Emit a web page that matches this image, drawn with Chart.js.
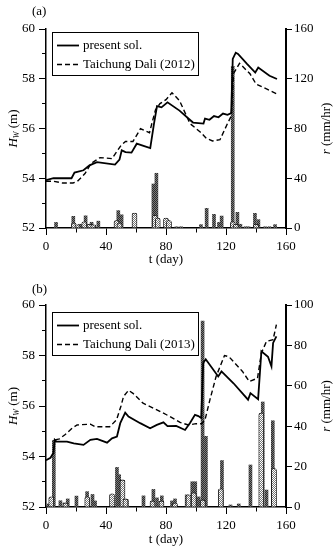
<!DOCTYPE html>
<html>
<head>
<meta charset="utf-8">
<script src="https://cdn.jsdelivr.net/npm/chart.js@4.4.1/dist/chart.umd.min.js"></script>
<style>
body { margin: 0; background: #fff; }
canvas { display: block; }
</style>
</head>
<body>
<canvas id="chartA" width="336" height="275"></canvas>
<canvas id="chartB" width="336" height="275"></canvas>
<script>
// ---- panel (a) ----
var solidDaysA = [0, 5, 17, 19, 25, 29, 34, 46, 49, 50.5, 53, 57, 60.5, 65, 69.5, 72, 74, 77, 81, 89, 98, 105, 106, 109, 112, 115, 118, 121, 123.5, 124.5, 126.5, 128, 134, 139.5, 141.5, 149, 154];
var solidHA = [53.92, 54.0, 54.0, 54.23, 54.32, 54.52, 54.65, 54.55, 54.75, 55.12, 55.05, 55.03, 55.39, 55.3, 55.21, 56.2, 56.9, 56.85, 57.05, 56.72, 56.24, 56.2, 56.4, 56.35, 56.5, 56.45, 56.6, 56.55, 56.62, 58.8, 59.05, 59.0, 58.6, 58.25, 58.45, 58.12, 57.99];
var dashDaysA = [0, 5, 11, 18, 21, 26, 30, 36, 44, 50, 53, 58, 63, 69, 71, 73, 76, 80, 84, 89, 96, 103, 107, 111, 116, 121, 123.5, 125, 129, 136, 140, 147, 154];
var dashHA = [53.88, 53.88, 53.81, 53.81, 53.88, 54.19, 54.59, 54.83, 54.79, 55.32, 55.48, 55.48, 55.99, 55.83, 56.3, 56.75, 57.0, 57.16, 57.44, 57.12, 56.2, 55.85, 55.6, 55.5, 55.55, 56.2, 56.5, 58.2, 58.62, 58.2, 57.79, 57.59, 57.39];
var darkDaysA = [6.7, 18.2, 22.7, 26.4, 30.4, 34.9, 48.2, 50.4, 71.6, 73.6, 87, 90, 103.3, 107.1, 112, 115.3, 117.1, 124.5, 127.6, 129.6, 133, 135, 139.3, 141.6, 146, 149, 152.7];
var darkRainA = [4.5, 9.4, 3, 9.8, 4.6, 5.5, 14, 10.6, 35.4, 44, 1, 1, 2.7, 15.8, 11, 4.5, 9.6, 130, 12.6, 3, 1, 1, 11.8, 6.7, 1, 1, 2.7];
var lightDaysA = [18.5, 21, 25.5, 29, 31.5, 47, 49, 59, 72.5, 74.5, 80, 82, 124.5, 126.5, 140];
var lightRainA = [4, 2.5, 5, 3, 2.5, 6, 4, 12, 10, 8, 8, 6, 5, 3, 3];

// ---- panel (b) ----
var solidDaysB = [0, 3, 5, 5.8, 7, 14, 18.5, 25, 29.6, 34, 40.7, 44, 47.3, 49.5, 52.8, 55, 62.8, 69.4, 73.9, 78.3, 81, 86.8, 92.7, 96, 99.3, 101.6, 103.5, 104.8, 106.5, 114.8, 117, 125, 134.7, 136.3, 141.4, 143.6, 148, 150.3, 151.4, 153.6];
var solidHB = [53.85, 53.95, 54.15, 54.66, 54.59, 54.59, 54.52, 54.46, 54.66, 54.7, 54.55, 54.72, 54.79, 55.32, 55.74, 55.58, 55.32, 55.12, 55.25, 55.35, 55.2, 55.21, 55.05, 55.33, 55.65, 55.6, 55.52, 57.7, 57.85, 57.17, 57.37, 56.9, 56.25, 56.51, 56.27, 58.17, 57.95, 57.57, 58.5, 58.76];
var dashDaysB = [6, 9, 12.6, 17.4, 20.7, 29.6, 32.9, 42.5, 47, 50, 51.7, 55, 58, 64.7, 73.9, 82.7, 89.4, 94.9, 100, 104, 106, 109.3, 113.4, 119, 122, 131, 135.5, 141, 143.6, 147, 151.4, 153.6];
var dashHB = [54.66, 54.7, 54.86, 55.12, 55.25, 55.28, 55.18, 55.18, 55.45, 56.0, 56.38, 56.62, 56.5, 56.11, 55.85, 55.58, 55.35, 55.25, 55.3, 55.3, 55.45, 56.25, 57.17, 58.0, 57.95, 57.37, 56.97, 57.1, 58.1, 58.56, 58.63, 59.22];
var darkDaysB = [1.5, 5.2, 9.6, 12.3, 14.5, 20.3, 27.4, 31, 32.7, 47.3, 48.8, 54, 65, 71.6, 74, 77.2, 84, 86, 93.8, 97.5, 99.5, 101.8, 104.4, 106.6, 117.3, 123, 128.5, 136.3, 144.5, 147, 151.2];
var darkRainB = [1.5, 33, 3.1, 2, 4, 5.4, 7.6, 6.2, 3, 19.6, 16, 3.5, 5.5, 8.7, 4.5, 5.5, 3, 4, 6, 12.5, 12.5, 5, 92, 35, 23, 1, 1.5, 20.8, 52, 8.4, 42.7];
var lightDaysB = [3.5, 13, 27.5, 44, 51, 53, 71, 77, 86, 95, 98.5, 104.5, 116.5, 143.5, 152];
var lightRainB = [5, 2, 5, 6.5, 13.4, 4, 3, 3, 2, 6, 7, 3.5, 9, 46.5, 19];

var FONT = "'Liberation Serif', 'Times New Roman', serif";

function toPoints(days, vals) {
    return days.map(function (d, i) { return { x: d, y: vals[i] }; });
}

function makePattern(bg, fg, cells, size) {
    var c = document.createElement('canvas');
    c.width = size; c.height = size;
    var g = c.getContext('2d');
    g.fillStyle = bg;
    g.fillRect(0, 0, size, size);
    g.fillStyle = fg;
    cells.forEach(function (p) { g.fillRect(p[0], p[1], 1, 1); });
    return g.createPattern(c, 'repeat');
}

var darkFill = makePattern('#7a7a7a', '#2a2a2a', [[0, 0], [1, 1]], 2);
var lightFill = makePattern('#fff', '#777', [[0, 0], [2, 0], [1, 1], [3, 1], [0, 2], [2, 2], [1, 3], [3, 3]], 4);

function drawParts(ctx, parts, cx, cy) {
    var total = 0;
    parts.forEach(function (p) { ctx.font = p.f; total += ctx.measureText(p.t).width; });
    var x = cx - total / 2;
    parts.forEach(function (p) {
        ctx.font = p.f;
        ctx.fillText(p.t, x, cy + (p.dy || 0));
        x += ctx.measureText(p.t).width;
    });
}

var decorPlugin = {
    id: 'decor',
    afterDraw: function (chart, args, o) {
        var ctx = chart.ctx, a = chart.chartArea;
        var mid = (a.top + a.bottom) / 2;
        ctx.save();
        ctx.fillStyle = '#000';
        ctx.textBaseline = 'middle';
        ctx.textAlign = 'left';
        ctx.font = '13px ' + FONT;
        ctx.fillText(o.tag, 32, o.tagY);

        // axis titles
        ctx.save();
        ctx.translate(14, mid);
        ctx.rotate(-Math.PI / 2);
        drawParts(ctx, [
            { t: 'H', f: 'italic 13px ' + FONT },
            { t: 'W', f: 'italic 8px ' + FONT, dy: 3 },
            { t: ' (m)', f: '13px ' + FONT }
        ], 0, 0);
        ctx.restore();
        ctx.save();
        ctx.translate(327, mid);
        ctx.rotate(-Math.PI / 2);
        drawParts(ctx, [
            { t: 'r', f: 'italic 13px ' + FONT },
            { t: ' (mm/hr)', f: '13px ' + FONT }
        ], 0, 0);
        ctx.restore();

        // legend box
        var bx = 52.5, by = o.boxTop + 0.5, bw = 146, bh = 43;
        ctx.lineWidth = 1;
        ctx.strokeStyle = '#000';
        ctx.strokeRect(bx, by, bw, bh);
        var lines = chart.data.datasets.filter(function (d) { return d.type === 'line'; });
        lines.forEach(function (d, i) {
            var y = by + 13 + i * 19;
            ctx.beginPath();
            ctx.setLineDash(d.borderDash || []);
            ctx.lineWidth = d.borderWidth;
            ctx.moveTo(57, y);
            ctx.lineTo(79, y);
            ctx.stroke();
            ctx.setLineDash([]);
            ctx.font = '13px ' + FONT;
            ctx.fillText(d.label, 83, y);
        });
        ctx.restore();
    }
};

function drawPanel(id, p) {
    var tickFont = { family: FONT, size: 13 };
    new Chart(document.getElementById(id), {
        type: 'line',
        data: {
            datasets: [{
                type: 'line',
                label: 'present sol.',
                data: toPoints(p.solidDays, p.solidH),
                borderColor: '#000',
                borderWidth: 1.8,
                pointRadius: 0,
                tension: 0,
                yAxisID: 'y',
                order: 0
            }, {
                type: 'line',
                label: p.obsLabel,
                data: toPoints(p.dashDays, p.dashH),
                borderColor: '#000',
                borderWidth: 1.4,
                borderDash: [5, 3],
                pointRadius: 0,
                tension: 0,
                yAxisID: 'y',
                order: 0
            }, {
                type: 'bar',
                label: 'rain (light)',
                data: toPoints(p.lightDays, p.lightRain),
                backgroundColor: lightFill,
                borderColor: '#000',
                borderWidth: 0.8,
                borderRadius: 2,
                barThickness: 5,
                grouped: false,
                yAxisID: 'r',
                order: 1
            }, {
                type: 'bar',
                label: 'rain (dark)',
                data: toPoints(p.darkDays, p.darkRain),
                backgroundColor: darkFill,
                borderWidth: 0,
                barThickness: 3,
                grouped: false,
                yAxisID: 'r',
                order: 2
            }]
        },
        options: {
            responsive: false,
            animation: false,
            devicePixelRatio: 1,
            layout: { padding: { top: p.top, left: 0, right: 0, bottom: 0 } },
            plugins: {
                legend: { display: false },
                tooltip: { enabled: false },
                decor: { tag: p.tag, tagY: p.tagY, boxTop: p.boxTop }
            },
            scales: {
                x: {
                    type: 'linear', min: 0, max: 160, offset: false,
                    afterFit: function (s) { s.height = p.xh; },
                    ticks: {
                        stepSize: 20, autoSkip: false, maxRotation: 0, padding: 4,
                        color: '#000', font: tickFont,
                        callback: function (v) { return v % 40 === 0 ? v : ''; }
                    },
                    grid: {
                        drawOnChartArea: false, offset: false, color: '#000', tickLength: 7,
                        tickBorderDash: function (c) { return c.tick && c.tick.value % 40 ? [4, 100] : []; }
                    },
                    border: { color: '#000', width: 1.5 },
                    title: {
                        display: true, text: 't (day)', color: '#000',
                        font: { family: FONT, size: 13 }, padding: { top: 0, bottom: p.titlePad }
                    }
                },
                y: {
                    type: 'linear', position: 'left', min: 52, max: 60,
                    afterFit: function (s) { s.width = 46; },
                    ticks: {
                        stepSize: 1, autoSkip: false, padding: 4, color: '#000', font: tickFont,
                        callback: function (v) { return v % 2 === 0 ? v : ''; }
                    },
                    grid: {
                        drawOnChartArea: false, color: '#000', tickLength: 7,
                        tickBorderDash: function (c) { return c.tick && c.tick.value % 2 ? [0, 3, 4, 100] : []; }
                    },
                    border: { color: '#000', width: 1.5 }
                },
                r: {
                    type: 'linear', position: 'right', min: 0, max: p.rMax,
                    afterFit: function (s) { s.width = 50; },
                    ticks: { stepSize: p.rStep, padding: 2, color: '#000', font: tickFont },
                    grid: { drawOnChartArea: false, color: '#000', tickLength: 6 },
                    border: { color: '#000', width: 2 }
                }
            }
        },
        plugins: [decorPlugin]
    });
}

drawPanel('chartA', {
    tag: '(a)', tagY: 12, boxTop: 32, top: 29, xh: 47, titlePad: 8,
    obsLabel: 'Taichung Dali (2012)', rMax: 160, rStep: 40,
    solidDays: solidDaysA, solidH: solidHA, dashDays: dashDaysA, dashH: dashHA,
    darkDays: darkDaysA, darkRain: darkRainA, lightDays: lightDaysA, lightRain: lightRainA
});

drawPanel('chartB', {
    tag: '(b)', tagY: 15, boxTop: 37, top: 30, xh: 43, titlePad: 3,
    obsLabel: 'Taichung Dali (2013)', rMax: 100, rStep: 20,
    solidDays: solidDaysB, solidH: solidHB, dashDays: dashDaysB, dashH: dashHB,
    darkDays: darkDaysB, darkRain: darkRainB, lightDays: lightDaysB, lightRain: lightRainB
});
</script>
</body>
</html>
